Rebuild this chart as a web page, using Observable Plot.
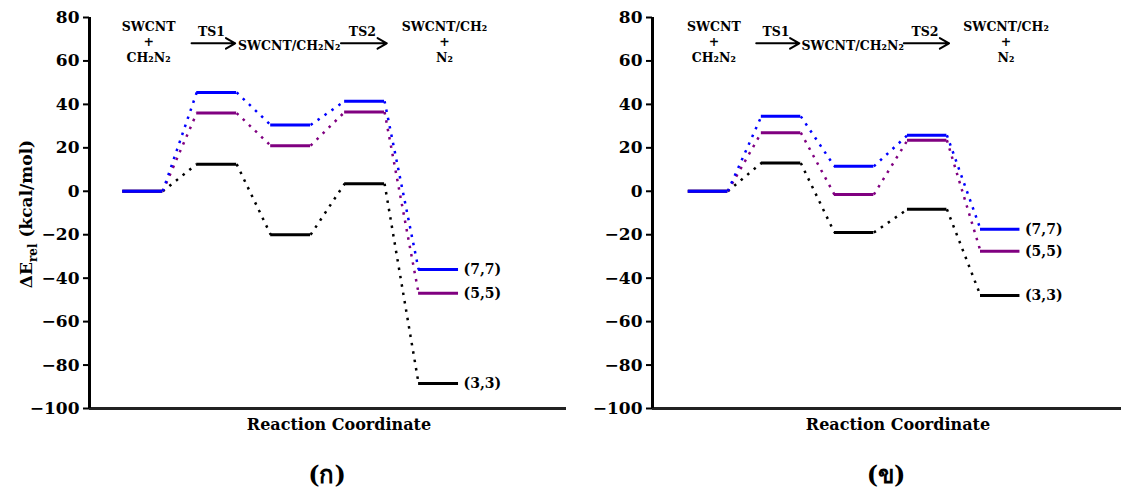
<!DOCTYPE html>
<html><head><meta charset="utf-8">
<script src="https://cdn.jsdelivr.net/npm/d3@7"></script>
<script src="https://cdn.jsdelivr.net/npm/@observablehq/plot@0.6"></script>
<style>
body{margin:0;background:#fff;}
#wrap{position:relative;width:1121px;height:494px;overflow:hidden;background:#fff;}
.panel{position:absolute;top:0;}
.cap{position:absolute;top:460px;font:bold 24px "DejaVu Serif",serif;transform:translateX(-50%);line-height:30px;color:#000;}
</style></head><body><div id="wrap"></div>
<script>
// ---- data ----
const stages = ["SWCNT + CH₂N₂", "TS1", "SWCNT/CH₂N₂", "TS2", "SWCNT/CH₂ + N₂"];
const tubes = ["(3,3)", "(5,5)", "(7,7)"];
const tubeColors = ["#000000", "#800080", "#0000ff"];
// panel (ก)
const energyA_33 = [0, 12.5, -20, 3.5, -88.5];
const energyA_55 = [0, 36, 21, 36.5, -47];
const energyA_77 = [0, 45.5, 30.5, 41.5, -36];
// panel (ข)
const energyB_33 = [0, 13, -19, -8.3, -48];
const energyB_55 = [0, 27, -1.5, 23.5, -27.6];
const energyB_77 = [0, 34.5, 11.5, 25.8, -17.5];
const yTicks = [-100, -80, -60, -40, -20, 0, 20, 40, 60, 80];
const captions = ["(ก)", "(ข)"];
const xTitle = "Reaction Coordinate";

const halfWidth = 0.27;

function panel(series, o) {
  const rows = [], links = [];
  series.forEach((vals, t) => {
    vals.forEach((e, i) => rows.push({tube: tubes[t], i, e}));
    for (let i = 0; i < vals.length - 1; i++)
      links.push({tube: tubes[t], x1: i + 1 + halfWidth, y1: vals[i], x2: i + 2 - halfWidth, y2: vals[i + 1]});
  });
  const ends = series.map((vals, t) => ({tube: tubes[t], x: vals.length + halfWidth, e: vals[vals.length - 1]}));
  const ann = [
    {text: "SWCNT", x: 1.08, y: 75.4}, {text: "+", x: 1.08, y: 68.8}, {text: "CH₂N₂", x: 1.08, y: 61.5},
    {text: stages[1], x: 1.93, y: 73.2},
    {text: "SWCNT/CH₂N₂", x: 2.98, y: 67},
    {text: stages[3], x: 3.97, y: 73.2},
    {text: "SWCNT/CH₂", x: 5.08, y: 75.4}, {text: "+", x: 5.08, y: 68.8}, {text: "N₂", x: 5.08, y: 61.5}
  ];
  const arrows = [{x1: 1.66, x2: 2.25, y: 68.1}, {x1: 3.68, x2: 4.3, y: 68.1}];
  return Plot.plot({
    width: o.width, height: 445,
    marginLeft: o.marginLeft, marginRight: o.marginRight, marginTop: 17, marginBottom: 37,
    x: {domain: o.xDomain, axis: null},
    y: {domain: [-100, 80], axis: null},
    color: {domain: tubes, range: tubeColors},
    style: {fontFamily: "DejaVu Serif", fontWeight: "bold", background: "white", overflow: "visible", color: "#000"},
    marks: [
      Plot.link(links, {x1: "x1", y1: "y1", x2: "x2", y2: "y2", stroke: "tube", strokeWidth: 2.5, strokeDasharray: "2.5,6"}),
      Plot.ruleY(rows, {y: "e", x1: d => d.i + 1 - halfWidth, x2: d => d.i + 1 + halfWidth, stroke: "tube", strokeWidth: 3}),
      Plot.text(ends, {x: "x", y: "e", text: "tube", dx: 5, textAnchor: "start", fontSize: 14, fill: "#000"}),
      Plot.text(ann, {x: "x", y: "y", text: "text", fontSize: 12.5, fill: "#000"}),
      Plot.arrow(arrows, {x1: "x1", x2: "x2", y1: "y", y2: "y", stroke: "#000", strokeWidth: 2, headLength: 8}),
      Plot.ruleY([-100], {stroke: "#222", strokeWidth: 3}),
      Plot.ruleX([o.xDomain[0]], {y1: -100, y2: 80, stroke: "#000", strokeWidth: 3}),
      Plot.axisY({ticks: yTicks, tickSize: 6, tickPadding: 4, fontSize: 17, strokeWidth: 2, fill: "#000"}),
      Plot.text([xTitle], {frameAnchor: "bottom", dy: 21, dx: 11, fontSize: 16, fill: "#000"})
    ]
  });
}

const wrap = document.getElementById("wrap");
const left = panel([energyA_33, energyA_55, energyA_77], {width: 580, marginLeft: 89, marginRight: 14, xDomain: [0.28, 6.73]});
left.classList.add("panel"); left.style.left = "0px";
wrap.appendChild(left);
const right = panel([energyB_33, energyB_55, energyB_77], {width: 541, marginLeft: 72, marginRight: 0, xDomain: [0.24, 6.66]});
right.classList.add("panel"); right.style.left = "580px";
wrap.appendChild(right);

// y-axis title with subscript
const t = d3.select(left).append("text")
  .attr("transform", "translate(32,214) rotate(-90)")
  .attr("text-anchor", "middle")
  .attr("fill", "#000")
  .style("font", "bold 17px 'DejaVu Serif'");
t.append("tspan").text("ΔE");
t.append("tspan").attr("font-size", "12px").attr("dy", 5).text("rel");
t.append("tspan").attr("dy", -5).text(" (kcal/mol)");

// panel captions
[[captions[0], 327], [captions[1], 886]].forEach(([c, x]) => {
  const d = document.createElement("div");
  d.className = "cap"; d.style.left = x + "px"; d.textContent = c;
  wrap.appendChild(d);
});
</script></body></html>
